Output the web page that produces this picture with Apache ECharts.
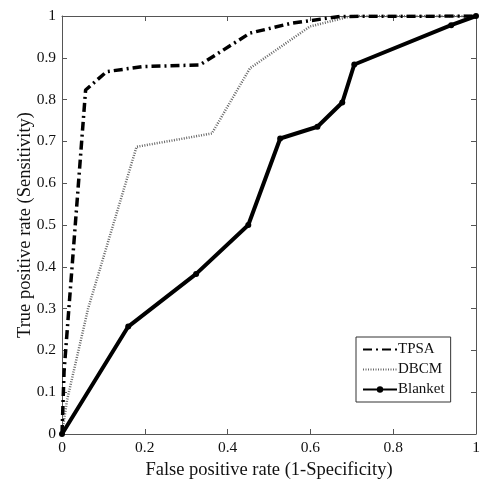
<!DOCTYPE html>
<html>
<head>
<meta charset="utf-8">
<script src="https://cdn.jsdelivr.net/npm/echarts@6/dist/echarts.min.js"></script>
<style>
  html, body { margin: 0; padding: 0; background: #fff; }
  #roc { width: 488px; height: 479px; }
</style>
</head>
<body>
<div id="roc"></div>
<script>
// ROC curves, values
var tpsaFpr = [0, 0.005, 0.057, 0.108, 0.196, 0.333, 0.454, 0.551, 0.671, 1];
var tpsaTpr = [0, 0.15, 0.823, 0.867, 0.879, 0.883, 0.959, 0.982, 0.999, 1];

var dbcmFpr = [0, 0.012, 0.063, 0.18, 0.362, 0.454, 0.599, 0.70, 1];
var dbcmTpr = [0, 0.08, 0.30, 0.687, 0.719, 0.875, 0.975, 1, 1];

var blanketFpr = [0, 0.160, 0.324, 0.450, 0.527, 0.617, 0.677, 0.706, 0.940, 1];
var blanketTpr = [0, 0.257, 0.383, 0.500, 0.707, 0.735, 0.793, 0.884, 0.978, 1];

var xTicks = [0, 0.2, 0.4, 0.6, 0.8, 1];
var yTicks = [0, 0.1, 0.2, 0.3, 0.4, 0.5, 0.6, 0.7, 0.8, 0.9, 1];

function pairs(xs, ys) {
    return xs.map(function (x, i) { return [x, ys[i]]; });
}

var font = '"Liberation Serif", "DejaVu Serif", serif';
var boxColor = '#555';

function axisBase(showLabels, pos, step) {
    return {
        type: 'value',
        position: pos,
        min: 0,
        max: 1,
        interval: step,
        axisLine: { show: true, onZero: false, lineStyle: { color: boxColor, width: 1 } },
        axisTick: { show: true, inside: true, length: 5, lineStyle: { color: boxColor } },
        axisLabel: { show: showLabels, color: '#111', fontFamily: font, fontSize: 15.5, margin: 6 },
        splitLine: { show: false }
    };
}

var xBottom = axisBase(true, 'bottom', 0.2);
xBottom.name = 'False positive rate (1-Specificity)';
xBottom.nameLocation = 'middle';
xBottom.nameGap = 24;
xBottom.nameTextStyle = { color: '#111', fontFamily: font, fontSize: 18.5 };

var yLeft = axisBase(true, 'left', 0.1);
yLeft.name = 'True positive rate (Sensitivity)';
yLeft.nameLocation = 'middle';
yLeft.nameGap = 27;
yLeft.nameMoveOverlap = false;
yLeft.nameTextStyle = { color: '#111', fontFamily: font, fontSize: 18.5, verticalAlign: 'bottom' };

var option = {
    backgroundColor: '#fff',
    animation: false,
    grid: { left: 62, right: 12, top: 16, bottom: 45, outerBoundsMode: 'none' },
    xAxis: [xBottom, axisBase(false, 'top', 0.2)],
    yAxis: [yLeft, axisBase(false, 'right', 0.1)],
    legend: {
        orient: 'vertical',
        left: 356,
        top: 337,
        width: 95,
        padding: [5, 6, 5, 6],
        itemGap: 5,
        itemWidth: 34,
        itemHeight: 8,
        backgroundColor: '#fff',
        borderColor: '#333',
        borderWidth: 1,
        borderRadius: 0,
        textStyle: { color: '#111', fontFamily: font, fontSize: 15, padding: [0, 0, 0, -4] },
        data: [
            { name: 'TPSA', itemStyle: { opacity: 0 } },
            { name: 'DBCM', itemStyle: { opacity: 0 } },
            { name: 'Blanket' }
        ]
    },
    series: [
        {
            name: 'TPSA',
            type: 'line',
            symbol: 'none',
            data: pairs(tpsaFpr, tpsaTpr),
            lineStyle: { color: '#000', width: 3.5, type: [9, 4, 2, 4] },
            itemStyle: { color: '#000' },
            z: 3
        },
        {
            name: 'DBCM',
            type: 'line',
            symbol: 'none',
            data: pairs(dbcmFpr, dbcmTpr),
            lineStyle: { color: '#666', width: 2.5, type: [1, 1.5] },
            itemStyle: { color: '#666' },
            z: 2
        },
        {
            name: 'Blanket',
            type: 'line',
            symbol: 'circle',
            symbolSize: 6,
            data: pairs(blanketFpr, blanketTpr),
            lineStyle: { color: '#000', width: 4 },
            itemStyle: { color: '#000' },
            z: 4
        }
    ]
};

var chart = echarts.init(document.getElementById('roc'));
chart.setOption(option);
</script>
</body>
</html>
